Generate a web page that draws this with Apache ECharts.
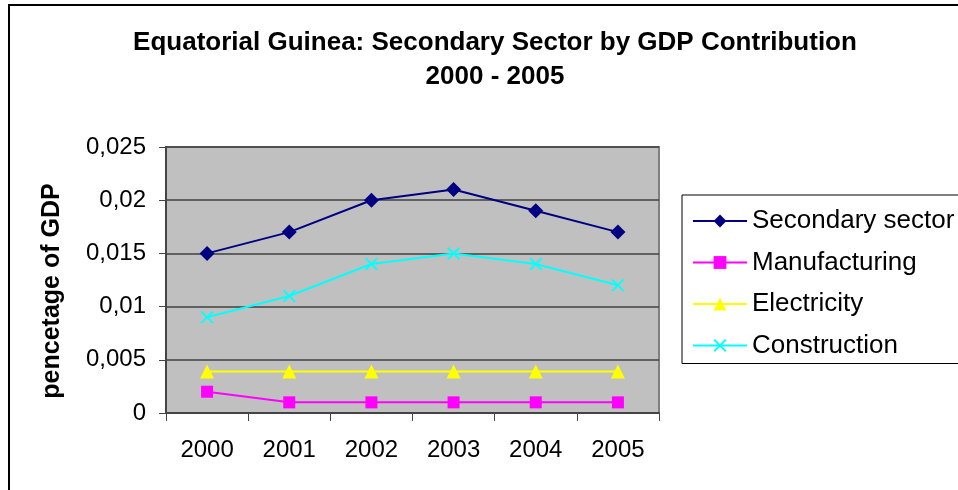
<!DOCTYPE html>
<html>
<head>
<meta charset="utf-8">
<script src="https://cdn.jsdelivr.net/npm/echarts@6/dist/echarts.min.js"></script>
<style>
  html, body { margin: 0; padding: 0; background: #fff; }
  #chart { width: 958px; height: 490px; }
</style>
</head>
<body>
<div id="chart"></div>
<script>
// values
const years = ['2000', '2001', '2002', '2003', '2004', '2005']
const secondarySector = [0.015, 0.017, 0.02, 0.021, 0.019, 0.017]
const manufacturing = [0.002, 0.001, 0.001, 0.001, 0.001, 0.001]
const electricity = [0.0039, 0.0039, 0.0039, 0.0039, 0.0039, 0.0039]
const construction = [0.009, 0.011, 0.014, 0.015, 0.014, 0.012]

const font = 'Arial, "Liberation Sans", sans-serif'
const crossPath = 'path://M0,1L1,0L5,4L9,0L10,1L6,5L10,9L9,10L5,6L1,10L0,9L4,5Z'

const mkSeries = (name, data, color, symbol, size) => ({
  name: name,
  type: 'line',
  data: data,
  symbol: symbol,
  symbolSize: size,
  showAllSymbol: true,
  lineStyle: { color: color, width: 2 },
  itemStyle: { color: color },
  emphasis: { disabled: true },
  animation: false
})

const chart = echarts.init(document.getElementById('chart'))
chart.setOption({
  backgroundColor: '#fff',
  textStyle: { fontFamily: font },
  title: {
    text: 'Equatorial Guinea: Secondary Sector by GDP Contribution\n2000 - 2005',
    left: 490,
    top: 21,
    textAlign: 'center',
    textStyle: { fontSize: 26, fontWeight: 'bold', color: '#000', lineHeight: 34, fontFamily: font }
  },
  graphic: [{
    type: 'rect',
    shape: { x: 9, y: 5, width: 980, height: 520 },
    style: { fill: 'none', stroke: '#000', lineWidth: 2 },
    silent: true
  }],
  legend: {
    orient: 'vertical',
    left: 682,
    top: 195,
    padding: [12, 40, 4, 10],
    itemWidth: 54,
    itemHeight: 16,
    itemGap: 13.5,
    borderColor: '#000',
    borderWidth: 1,
    textStyle: { fontSize: 26, color: '#000', lineHeight: 28, fontFamily: font }
  },
  grid: {
    left: 166,
    right: 299,
    top: 147,
    bottom: 77,
    show: true,
    backgroundColor: '#c0c0c0',
    borderColor: '#808080',
    borderWidth: 2
  },
  xAxis: {
    type: 'category',
    data: years,
    boundaryGap: true,
    axisLine: { lineStyle: { color: '#444', width: 2 } },
    axisTick: { show: true, length: 8, lineStyle: { color: '#444' } },
    axisLabel: { fontSize: 24, color: '#000', margin: 25 }
  },
  yAxis: {
    type: 'value',
    min: 0,
    max: 0.025,
    interval: 0.005,
    name: 'pencetage of GDP',
    nameLocation: 'middle',
    nameRotate: 90,
    nameGap: 101,
    nameTextStyle: { fontSize: 25, fontWeight: 'bold', color: '#000', padding: [0, 22, 0, 0] },
    axisLine: { show: true, lineStyle: { color: '#444', width: 2 } },
    axisTick: { show: true, length: 7, lineStyle: { color: '#444' } },
    axisLabel: {
      fontSize: 24,
      color: '#000',
      margin: 20,
      formatter: v => String(parseFloat(v.toFixed(4))).replace('.', ',')
    },
    splitLine: { lineStyle: { color: '#404040', width: 1.5 } }
  },
  series: [
    mkSeries('Secondary sector', secondarySector, '#000080', 'diamond', 15),
    mkSeries('Manufacturing', manufacturing, '#ff00ff', 'rect', 12),
    mkSeries('Electricity', electricity, '#ffff00', 'triangle', 14),
    mkSeries('Construction', construction, '#00ffff', crossPath, 13)
  ]
})
</script>
</body>
</html>
